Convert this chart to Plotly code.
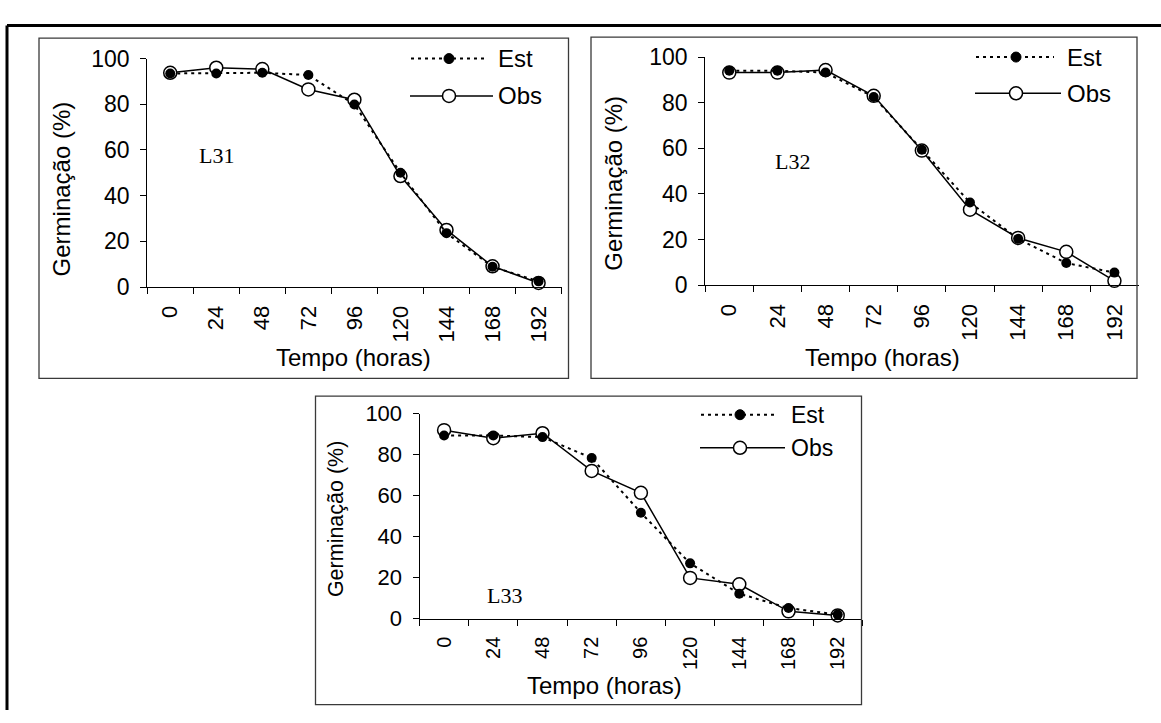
import plotly.graph_objects as go

# Germination (%) over time for three seed lots: estimated vs observed
hours = ["0", "24", "48", "72", "96", "120", "144", "168", "192"]

l31_est = [93.5, 93.5, 93.8, 92.8, 79.9, 50.0, 23.6, 8.9, 2.5]
l31_obs = [93.8, 96.0, 95.4, 86.5, 82.0, 48.6, 25.0, 9.1, 1.8]

l32_est = [94.0, 94.0, 93.2, 82.5, 59.4, 36.2, 20.3, 9.7, 5.5]
l32_obs = [93.2, 93.2, 94.3, 83.0, 59.0, 33.1, 20.7, 14.6, 1.9]

l33_est = [89.4, 89.4, 88.6, 78.4, 51.7, 27.0, 12.2, 5.2, 2.0]
l33_obs = [92.0, 88.1, 90.5, 72.1, 61.4, 19.9, 16.8, 3.6, 1.6]

lot_names = ["L31", "L32", "L33"]
y_title = "Germinação (%)"
x_title = "Tempo (horas)"
est_name = "Est"
obs_name = "Obs"

W, H = 1161, 723
SANS = "Arial, Liberation Sans, sans-serif"
SERIF = "Times New Roman, Liberation Serif, serif"


def px(x):
    return x / W


def py(y):
    return 1 - y / H


# panel geometry in pixels: plot area (axes) and surrounding box
panels = [
    dict(ax=(147.2, 561.6, 47.3, 284.3), box=(39, 568.5, 26, 379),
         ytitle=(61, 183), xtitle=(353, 357), lot=(1.0, 57.4),
         leg=dict(x0=411, x1=484, xo1=493, xm=449, ye=47.3, yo=86, xt=496),
         ytick=23, xtick=22, ytitlef=24, xtitlef=24, legf=24),
    dict(ax=(705.2, 1138.5, 45.7, 282.3), box=(591, 1137, 25, 379),
         ytitle=(614, 177), xtitle=(882, 357), lot=(1.32, 54.4),
         leg=dict(x0=976, x1=1054, xo1=1061, xm=1016, ye=45.7, yo=83.3, xt=1065),
         ytick=23, xtick=22, ytitlef=24, xtitlef=24, legf=24),
    dict(ax=(419.5, 862.3, 415.7, 628.3), box=(315.5, 861.5, 397.5, 717.5),
         ytitle=(336, 525), xtitle=(604, 698), lot=(1.23, 11.4),
         leg=dict(x0=701, x1=777, xo1=785, xm=740, ye=416.7, yo=451, xt=789),
         ytick=22, xtick=20, ytitlef=21.5, xtitlef=24, legf=23),
]

series = [(l31_est, l31_obs), (l32_est, l32_obs), (l33_est, l33_obs)]

fig = go.Figure()
shapes = []
annotations = []

for i, (p, (est, obs)) in enumerate(zip(panels, series)):
    n = "" if i == 0 else str(i + 1)
    xa, ya = "x" + n, "y" + n
    x0, x1, ytop, ybot = p["ax"]

    fig.add_trace(go.Scatter(
        x=hours, y=obs, xaxis=xa, yaxis=ya, mode="lines+markers",
        line=dict(color="black", width=1.5),
        marker=dict(symbol="circle", size=13, color="white",
                    line=dict(color="black", width=1.5)),
        cliponaxis=False, showlegend=False))
    fig.add_trace(go.Scatter(
        x=hours, y=est, xaxis=xa, yaxis=ya, mode="lines+markers",
        line=dict(color="black", width=2, dash="3px,4px"),
        marker=dict(symbol="circle", size=10, color="black"),
        cliponaxis=False, showlegend=False))

    fig.update_layout({
        "xaxis" + n: dict(
            domain=[px(x0), px(x1)], anchor=ya, type="category",
            categoryorder="array", categoryarray=hours, range=[-0.5, 8.5],
            tickson="boundaries", ticks="outside", ticklen=6, tickwidth=1,
            tickcolor="black", showline=True, linecolor="black", linewidth=1,
            showgrid=False, zeroline=False, tickangle=-90,
            ticklabelstandoff=9,
            tickfont=dict(family=SANS, size=p["xtick"], color="black"),
            fixedrange=True),
        "yaxis" + n: dict(
            domain=[py(ybot), py(ytop)], anchor=xa, range=[0, 100],
            tickvals=[0, 20, 40, 60, 80, 100], ticks="outside", ticklen=6,
            tickwidth=1, tickcolor="black", showline=True, linecolor="black",
            linewidth=1, showgrid=False, zeroline=False,
            ticklabelstandoff=6,
            tickfont=dict(family=SANS, size=p["ytick"], color="black"),
            fixedrange=True),
    })

    # panel frame
    bx0, bx1, by0, by1 = p["box"]
    shapes.append(dict(type="rect", xref="paper", yref="paper",
                       x0=px(bx0), x1=px(bx1), y0=py(by1), y1=py(by0),
                       line=dict(color="#3a3a3a", width=1.3)))

    # axis titles
    annotations.append(dict(text=y_title, xref="paper", yref="paper",
                            x=px(p["ytitle"][0]), y=py(p["ytitle"][1]),
                            textangle=-90, showarrow=False,
                            xanchor="center", yanchor="middle",
                            font=dict(family=SANS, size=p["ytitlef"], color="black")))
    annotations.append(dict(text=x_title, xref="paper", yref="paper",
                            x=px(p["xtitle"][0]), y=py(p["xtitle"][1]),
                            showarrow=False, xanchor="center", yanchor="middle",
                            font=dict(family=SANS, size=p["xtitlef"], color="black")))

    # lot label inside the plot area
    annotations.append(dict(text=lot_names[i], xref=xa, yref=ya,
                            x=p["lot"][0], y=p["lot"][1], showarrow=False,
                            xanchor="center", yanchor="middle",
                            font=dict(family=SERIF, size=22, color="black")))

    # per-panel legend
    lg = p["leg"]
    shapes.append(dict(type="line", xref="paper", yref="paper",
                       x0=px(lg["x0"]), x1=px(lg["x1"]),
                       y0=py(lg["ye"]), y1=py(lg["ye"]),
                       line=dict(color="black", width=2, dash="3px,4px")))
    shapes.append(dict(type="circle", xref="paper", yref="paper",
                       xsizemode="pixel", ysizemode="pixel",
                       xanchor=px(lg["xm"]), yanchor=py(lg["ye"]),
                       x0=-5, x1=5, y0=-5, y1=5,
                       fillcolor="black", line=dict(color="black", width=1)))
    shapes.append(dict(type="line", xref="paper", yref="paper",
                       x0=px(lg["x0"] - 1), x1=px(lg["xo1"]),
                       y0=py(lg["yo"]), y1=py(lg["yo"]),
                       line=dict(color="black", width=1.5)))
    shapes.append(dict(type="circle", xref="paper", yref="paper",
                       xsizemode="pixel", ysizemode="pixel",
                       xanchor=px(lg["xm"]), yanchor=py(lg["yo"]),
                       x0=-6.5, x1=6.5, y0=-6.5, y1=6.5,
                       fillcolor="white", line=dict(color="black", width=1.5)))
    annotations.append(dict(text=est_name, xref="paper", yref="paper",
                            x=px(lg["xt"]), y=py(lg["ye"]), showarrow=False,
                            xanchor="left", yanchor="middle",
                            font=dict(family=SANS, size=p["legf"], color="black")))
    annotations.append(dict(text=obs_name, xref="paper", yref="paper",
                            x=px(lg["xt"]), y=py(lg["yo"]), showarrow=False,
                            xanchor="left", yanchor="middle",
                            font=dict(family=SANS, size=p["legf"], color="black")))

# outer frame (top and left edges; the rest runs off the page)
shapes.append(dict(type="line", xref="paper", yref="paper",
                   x0=px(7), x1=1.0, y0=py(13), y1=py(13),
                   line=dict(color="black", width=3)))
shapes.append(dict(type="line", xref="paper", yref="paper",
                   x0=px(7), x1=px(7), y0=py(13), y1=0.0,
                   line=dict(color="black", width=3)))

fig.update_layout(
    width=W, height=H, margin=dict(l=0, r=0, t=0, b=0),
    paper_bgcolor="white", plot_bgcolor="white",
    shapes=shapes, annotations=annotations, showlegend=False,
)

fig.write_html("out.html", config={"displayModeBar": False})
